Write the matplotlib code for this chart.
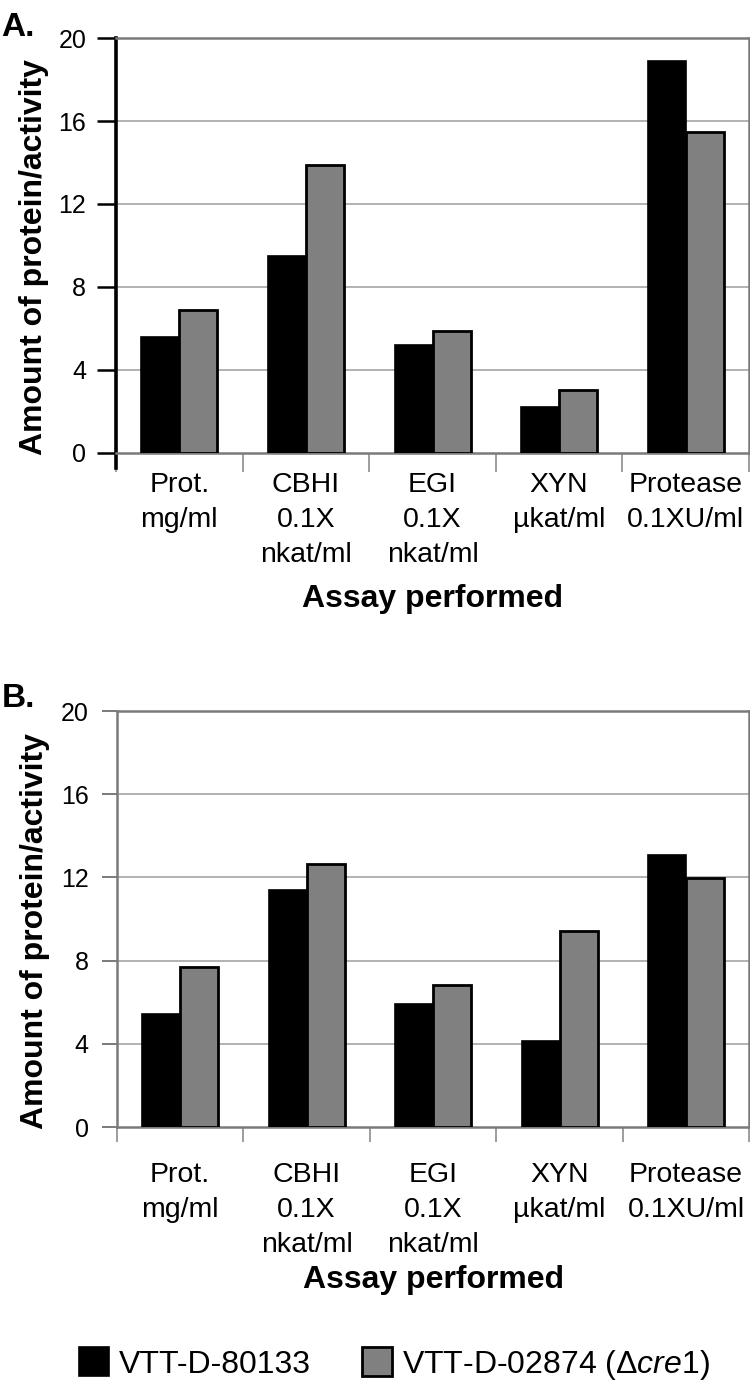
import matplotlib
matplotlib.use("Agg")
import matplotlib.pyplot as plt
from matplotlib.patches import Patch

FONT = 'Liberation Sans'

categories = ["Prot.\nmg/ml", "CBHI\n0.1X\nnkat/ml", "EGI\n0.1X\nnkat/ml",
              "XYN\n\u00b5kat/ml", "Protease\n0.1XU/ml"]
series_names = ["VTT-D-80133", "VTT-D-02874 (\u0394$\\mathit{cre1}$)"]
a_wild = [5.6, 9.5, 5.2, 2.2, 18.9]
a_cre1 = [6.9, 13.9, 5.9, 3.05, 15.45]
b_wild = [5.45, 11.4, 5.9, 4.15, 13.1]
b_cre1 = [7.7, 12.65, 6.85, 9.4, 11.95]
yticks = [0, 4, 8, 12, 16, 20]

plt.rcParams['font.family'] = [FONT, 'DejaVu Sans']
plt.rcParams['mathtext.fontset'] = 'custom'
plt.rcParams['mathtext.rm'] = FONT
plt.rcParams['mathtext.it'] = FONT + ':italic'

fig = plt.figure(figsize=(7.5, 13.83), dpi=100)


def panel(rect, wild, cre1, dark_spine, cat_pad, xlabelpad):
    ax = fig.add_axes(rect)
    x = list(range(len(categories)))
    w = 0.3
    ax.bar([i - w / 2 for i in x], wild, width=w, color='black', edgecolor='black',
           linewidth=1.2, zorder=3)
    ax.bar([i + w / 2 for i in x], cre1, width=w, color='#808080', edgecolor='black',
           linewidth=2.0, zorder=3)
    ax.set_xlim(-0.5, len(categories) - 0.5)
    ax.set_ylim(0, 20)
    ax.set_yticks(yticks)
    ax.set_yticklabels([str(t) for t in yticks], fontsize=18)
    for t in yticks[1:-1]:
        ax.axhline(t, color='#a6a6a6', linewidth=1.2, zorder=1)
    ax.set_xticks([i - 0.5 for i in range(len(categories) + 1)])
    ax.set_xticklabels([])
    ax.set_xticks(x, minor=True)
    ax.set_xticklabels(categories, minor=True, fontsize=20.5, linespacing=1.45)
    ax.tick_params(axis='x', which='minor', length=0, pad=cat_pad)
    for s in ['top', 'right', 'bottom']:
        ax.spines[s].set_color('#7a7a7a')
        ax.spines[s].set_linewidth(1.8)
    if dark_spine:
        ax.spines['left'].set_color('black')
        ax.spines['left'].set_linewidth(2.6)
        ax.spines['left'].set_bounds(-0.75, 20)
        ax.tick_params(axis='y', colors='black', length=14, width=1.8, pad=7.5,
                       labelcolor='black')
        ax.tick_params(axis='x', which='major', length=14, width=1.2, color='#8c8c8c')
    else:
        ax.spines['left'].set_color('#7a7a7a')
        ax.spines['left'].set_linewidth(1.8)
        ax.tick_params(axis='y', colors='#7a7a7a', length=11, width=1.4, pad=9.5,
                       labelcolor='black')
        ax.tick_params(axis='x', which='major', length=11, width=1.2, color='#8c8c8c')
    ax.set_ylabel('Amount of protein/activity', fontweight='bold', fontsize=23)
    ax.yaxis.set_label_coords(-0.106, 0.472)
    ax.set_xlabel('Assay performed', fontweight='bold', fontsize=23, labelpad=xlabelpad)
    return ax


axA = panel([0.1547, 0.6725, 0.844, 0.300], a_wild, a_cre1, True, 14, 11)
axB = panel([0.1560, 0.1851, 0.843, 0.3008], b_wild, b_cre1, False, 25.5, 5)

fig.text(0.002, 0.9915, 'A.', fontweight='bold', fontsize=24, va='top', ha='left')
fig.text(0.002, 0.5065, 'B.', fontweight='bold', fontsize=24, va='top', ha='left')

handles = [Patch(facecolor='black', edgecolor='black', linewidth=1.2),
           Patch(facecolor='#808080', edgecolor='black', linewidth=2.0)]
fig.legend(handles, series_names, loc='center', bbox_to_anchor=(0.526, 0.0135), ncol=2,
           frameon=False, prop={'size': 23}, handlelength=0.94, handleheight=1.03,
           handletextpad=0.3, columnspacing=1.6, borderpad=0, borderaxespad=0)

fig.savefig('out.png', dpi=100)
